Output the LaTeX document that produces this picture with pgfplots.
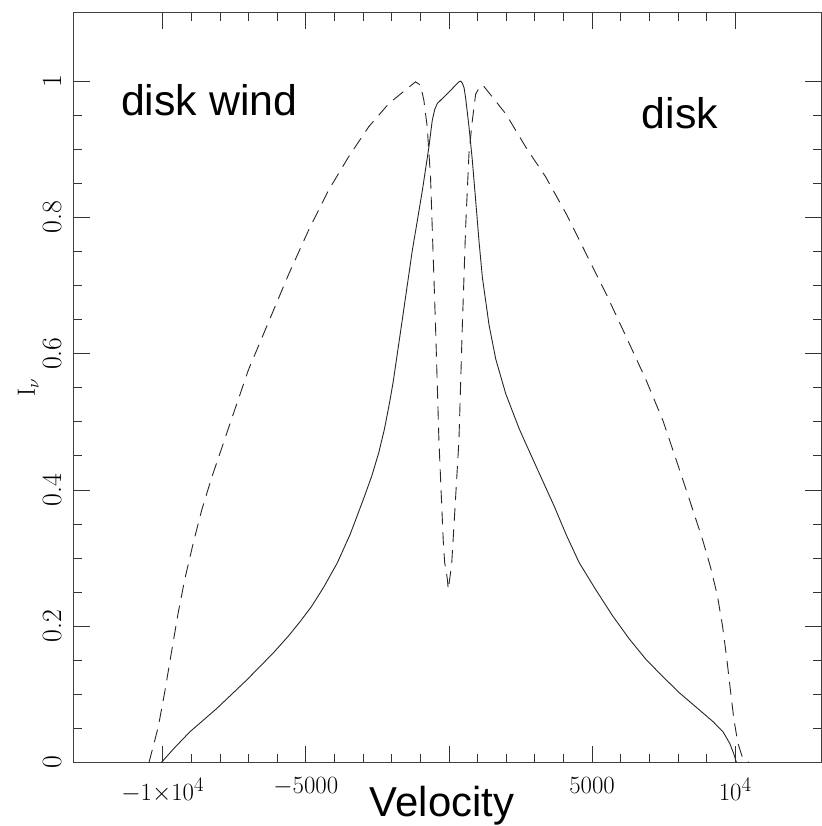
\documentclass[border=0pt]{standalone}
\usepackage{pgfplots}
\pgfplotsset{compat=1.18}
\usepackage{fontspec}
\newfontfamily\arial{Liberation Sans}

\begin{document}
\begin{tikzpicture}
\begin{axis}[
 scale only axis, width=747bp, height=749.5bp,
 xmin=-13100, xmax=13000, ymin=0, ymax=1.1,
 xtick={-10000,-5000,0,5000,10000},
 xticklabels={$-1{\times}10^4$,$-5000$,,$5000$,$10^4$},
 scaled x ticks=false, scaled y ticks=false,
 ytick={0,0.2,0.4,0.6,0.8,1},
 yticklabels={0,0.2,0.4,0.6,0.8,1},
 minor x tick num=4, minor y tick num=3,
 tick align=inside, xtick pos=both, ytick pos=both, ticklabel pos=left,
 major tick length=16bp, minor tick length=8.5bp,
 every tick/.style={black!80, line width=0.8bp},
 axis line style={black!75, line width=1bp},
 tick label style={font=\fontsize{28}{28}\selectfont, inner sep=0pt},
 xticklabel shift=15bp,
 yticklabel style={rotate=90, anchor=south},
 yticklabel shift=12bp,
 xlabel={Velocity},
 xlabel style={at={(rel axis cs:0.4926,-0.0727)}, anchor=base, inner sep=0pt, font=\arial\fontsize{42}{42}\selectfont},
 ylabel={$\mathrm{I}_\nu$},
 ylabel style={at={(rel axis cs:-0.047,0.5)}, anchor=south, inner sep=0pt, font=\fontsize{25}{25}\selectfont},
]
\addplot[black!85, line width=0.9bp] coordinates {
(-10047,0) (-9600,0.021) (-9052,0.045) (-8118,0.079) (-7067,0.121) (-6132,0.161)
(-5600,0.186) (-5197,0.207) (-4800,0.229) (-4380,0.257) (-3900,0.293) (-3450,0.335)
(-3000,0.385) (-2700,0.420) (-2450,0.455) (-2250,0.490) (-2080,0.527) (-1950,0.558)
(-1636,0.648) (-1285,0.750) (-934,0.838) (-701,0.903) (-584,0.942)
(-500,0.958) (-409,0.967) (0,0.984) (350,0.999) (409,1.0) (470,0.997) (530,0.99)
(584,0.975) (701,0.933) (817,0.884) (934,0.825) (1051,0.765) (1168,0.712)
(1402,0.642) (1636,0.592) (1986,0.541) (2453,0.490) (2686,0.468) (3150,0.425)
(3680,0.376) (4100,0.334) (4555,0.293) (5139,0.253) (5723,0.215) (6307,0.181)
(6891,0.151) (7475,0.126) (8059,0.102) (8643,0.081) (9227,0.060) (9577,0.045)
(9811,0.028) (9951,0.013) (10045,0)
};
\addplot[black!85, line width=0.9bp, dash pattern=on 13bp off 8bp] coordinates {
(-10480,0) (-10157,0.052) (-9923,0.105) (-9690,0.163) (-9458,0.220) (-9224,0.270)
(-8934,0.322) (-8641,0.370) (-8291,0.418) (-7942,0.461) (-7652,0.497)
(-7008,0.576) (-6307,0.646) (-5606,0.716) (-4906,0.781) (-4205,0.840) (-3504,0.889)
(-2803,0.933) (-2102,0.967) (-1402,0.991)
(-1168,0.999) (-993,0.994) (-876,0.972) (-759,0.933) (-643,0.859) (-584,0.786)
(-467,0.639) (-350,0.473) (-200,0.327) (-150,0.294) (-58,0.27) (-23,0.254)
(94,0.29) (140,0.322) (350,0.473) (467,0.639) (584,0.786) (701,0.894) (817,0.942)
(934,0.981) (1110,0.994) (1226,0.992) (1986,0.952) (2686,0.903) (3387,0.859)
(4088,0.806) (4789,0.747) (5490,0.688) (6190,0.625) (6891,0.561) (7475,0.502)
(7942,0.444) (8410,0.385) (8877,0.325) (9150,0.285) (9380,0.245) (9560,0.200)
(9700,0.155) (9830,0.108) (9960,0.062) (10100,0.028) (10250,0.008) (10480,0)
};
\node[anchor=base west, inner sep=0pt, font=\arial\fontsize{43}{43}\selectfont] at (axis cs:-11460,0.950) {disk wind};
\node[anchor=base west, inner sep=0pt, font=\arial\fontsize{43}{43}\selectfont] at (axis cs:6733,0.9306) {disk};
\end{axis}
\pgfresetboundingbox
\path[use as bounding box] ([xshift=-74bp,yshift=-63.5bp]current axis.south west) rectangle ([xshift=1bp,yshift=13bp]current axis.north east);
\end{tikzpicture}
\end{document}
